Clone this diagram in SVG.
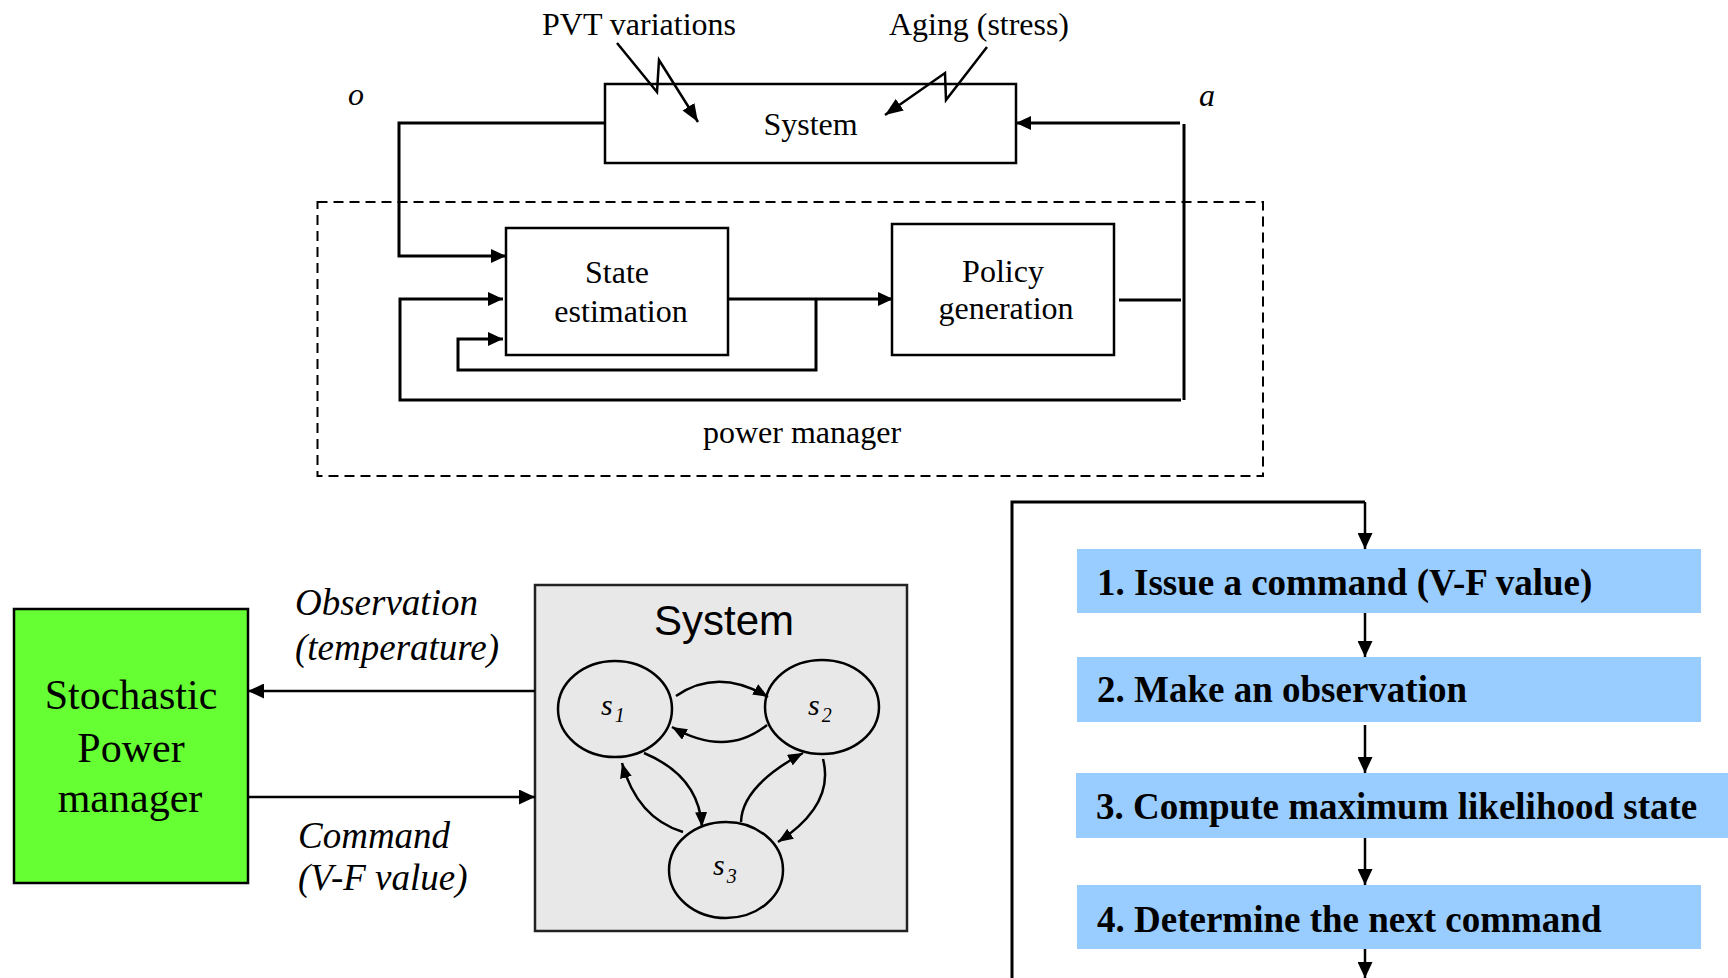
<svg xmlns="http://www.w3.org/2000/svg" width="1728" height="978" viewBox="0 0 1728 978">
<style>
.serif{font-family:"Liberation Serif","Times New Roman",serif;fill:#000}
.sans{font-family:"Liberation Sans",Arial,sans-serif;fill:#000}
.t32{font-size:32px}
.it{font-style:italic}
.bold{font-weight:bold;font-size:37px}
.box{fill:#fff;stroke:#000;stroke-width:2.5}
.ln{fill:none;stroke:#000;stroke-width:3}
.thin{fill:none;stroke:#000;stroke-width:2.5}
.mid{text-anchor:middle}
.step{fill:#99CCFF}
.state{fill:none;stroke:#000;stroke-width:2.5}
</style>
<defs>
<marker id="ah" markerUnits="userSpaceOnUse" markerWidth="15" markerHeight="14" refX="15" refY="7" orient="auto"><path d="M0,0 L15,7 L0,14 z" fill="#000"/></marker>
<marker id="ahL" markerUnits="userSpaceOnUse" markerWidth="18" markerHeight="14" refX="18" refY="7" orient="auto"><path d="M0,0 L18,7 L0,14 z" fill="#000"/></marker>
<marker id="ahS" markerUnits="userSpaceOnUse" markerWidth="15" markerHeight="12" refX="15" refY="6" orient="auto"><path d="M0,0 L15,6 L0,12 z" fill="#000"/></marker>
<marker id="ahB" markerUnits="userSpaceOnUse" markerWidth="16" markerHeight="15" refX="16" refY="7.5" orient="auto"><path d="M0,0 L16,7.5 L0,15 z" fill="#000"/></marker>
<marker id="ahF" markerUnits="userSpaceOnUse" markerWidth="16" markerHeight="15" refX="16" refY="7.5" orient="auto"><path d="M0,0 L16,7.5 L0,15 z" fill="#000"/></marker>
</defs>

<!-- Top diagram -->
<g id="power-manager">
<rect x="317.5" y="202" width="945.5" height="274" fill="none" stroke="#000" stroke-width="2" stroke-dasharray="10 6"/>
<text class="serif t32 mid" x="802" y="443">power manager</text>
</g>
<g id="system-top">
<rect class="box" x="605" y="84" width="411" height="79"/>
<text class="serif t32 mid" x="810.5" y="135">System</text>
</g>
<g id="state-estimation">
<rect class="box" x="506" y="228" width="222" height="127"/>
<text class="serif t32 mid" x="617" y="283">State</text>
<text class="serif t32 mid" x="621" y="322">estimation</text>
</g>
<g id="policy-generation">
<rect class="box" x="892" y="224" width="222" height="131"/>
<text class="serif t32 mid" x="1003" y="282">Policy</text>
<text class="serif t32 mid" x="1006" y="319">generation</text>
</g>
<g id="labels-top">
<text class="serif t32" x="542" y="35" textLength="194" lengthAdjust="spacingAndGlyphs">PVT variations</text>
<text class="serif t32" x="889" y="35" textLength="180" lengthAdjust="spacingAndGlyphs">Aging (stress)</text>
<text class="serif t32 it" x="348" y="105">o</text>
<text class="serif t32 it" x="1199" y="106">a</text>
</g>

<!-- Bottom-left diagram -->
<g id="stochastic-power-manager">
<rect x="14" y="609" width="234" height="274" fill="#66FF33" stroke="#000" stroke-width="2.5"/>
<text class="serif mid" font-size="42" x="131" y="709">Stochastic</text>
<text class="serif mid" font-size="42" x="131" y="762">Power</text>
<text class="serif mid" font-size="42" x="130" y="812">manager</text>
</g>
<g id="system-bottom">
<rect x="535" y="585" width="372" height="346" fill="#E8E8E8" stroke="#222" stroke-width="2.5"/>
<text class="sans mid" font-size="42" x="724" y="635">System</text>
</g>
<g id="s1">
<ellipse class="state" cx="615" cy="709" rx="57" ry="48"/>
<text class="serif it" font-size="30" x="601" y="715">s<tspan font-size="20" dx="2" dy="7">1</tspan></text>
</g>
<g id="s2">
<ellipse class="state" cx="822" cy="707" rx="57" ry="47"/>
<text class="serif it" font-size="30" x="808" y="715">s<tspan font-size="20" dx="2" dy="7">2</tspan></text>
</g>
<g id="s3">
<ellipse class="state" cx="726" cy="870" rx="57" ry="48"/>
<text class="serif it" font-size="30" x="713" y="875">s<tspan font-size="20" dx="2" dy="8">3</tspan></text>
</g>
<g id="labels-bottom">
<text class="serif it" font-size="37" x="295" y="615">Observation</text>
<text class="serif it" font-size="37" x="295" y="660">(temperature)</text>
<text class="serif it" font-size="37" x="298" y="848">Command</text>
<text class="serif it" font-size="37" x="298" y="890">(V-F value)</text>
</g>

<!-- Flowchart -->
<g id="step1">
<rect class="step" x="1077" y="549" width="624" height="64"/>
<text class="serif bold" x="1097" y="595">1. Issue a command (V-F value)</text>
</g>
<g id="step2">
<rect class="step" x="1077" y="657" width="624" height="65"/>
<text class="serif bold" x="1097" y="702">2. Make an observation</text>
</g>
<g id="step3">
<rect class="step" x="1076" y="773" width="652" height="65"/>
<text class="serif bold" x="1096" y="819">3. Compute maximum likelihood state</text>
</g>
<g id="step4">
<rect class="step" x="1077" y="885" width="624" height="64"/>
<text class="serif bold" x="1097" y="932">4. Determine the next command</text>
</g>

<g id="connectors">
<!-- top -->
<path class="ln" d="M605,123 H399 V256 H506" marker-end="url(#ah)"/>
<path class="ln" d="M1180,123 H1016" marker-end="url(#ah)"/>
<path class="ln" d="M1184,124 V400"/>
<path class="ln" d="M1119,300 H1181"/>
<path class="ln" d="M1181,400 H400 V299 H503" marker-end="url(#ah)"/>
<path class="ln" d="M728,299 H893" marker-end="url(#ah)"/>
<path class="ln" d="M816,299 V370 H458 V339 H503" marker-end="url(#ah)"/>
<path class="thin" d="M617,43 L657,92 L659,60 L698,122" marker-end="url(#ahL)"/>
<path class="thin" d="M987,47 L946,100 L945,73 L885,115" marker-end="url(#ahL)"/>
<!-- bottom-left -->
<path class="thin" d="M535,691 H248" marker-end="url(#ahB)"/>
<path class="thin" d="M248,797 H535" marker-end="url(#ahB)"/>
<path class="state" d="M676,696 Q718,667 768,697" marker-end="url(#ahS)"/>
<path class="state" d="M767,725 Q726,758 672,727" marker-end="url(#ahS)"/>
<path class="state" d="M644,753 Q699,776 702,827" marker-end="url(#ahS)"/>
<path class="state" d="M683,832 Q637,818 622,763" marker-end="url(#ahS)"/>
<path class="state" d="M741,822 Q742,786 803,753" marker-end="url(#ahS)"/>
<path class="state" d="M823,759 Q835,805 778,842" marker-end="url(#ahS)"/>
<!-- flowchart -->
<path class="ln" d="M1012,978 V502 H1365"/>
<path class="thin" d="M1365,502 V549" marker-end="url(#ahF)"/>
<path class="thin" d="M1365,613 V657" marker-end="url(#ahF)"/>
<path class="thin" d="M1365,725 V773" marker-end="url(#ahF)"/>
<path class="thin" d="M1365,838 V885" marker-end="url(#ahF)"/>
<path class="thin" d="M1365,949 V978" marker-end="url(#ahF)"/>
</g>
</svg>
